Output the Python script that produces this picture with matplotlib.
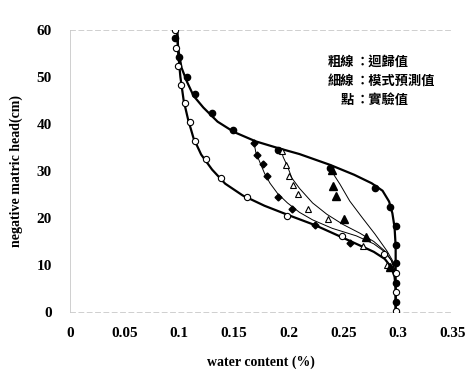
import matplotlib
matplotlib.use("Agg")
import matplotlib.pyplot as plt

# thick curves (regression)
upper_x = [0.098, 0.099, 0.102, 0.107, 0.113, 0.122, 0.135, 0.150, 0.170, 0.190, 0.210,
           0.238, 0.260, 0.276, 0.286, 0.292, 0.295, 0.297, 0.298, 0.298]
upper_y = [60, 56, 52, 49, 46, 43.5, 40.5, 38.3, 36.3, 34.9, 33.6,
           31.3, 29.2, 27.4, 25.8, 23.5, 21, 18, 14, 0]
lower_x = [0.098, 0.099, 0.101, 0.104, 0.108, 0.113, 0.120, 0.130, 0.142, 0.158, 0.178,
           0.200, 0.224, 0.245, 0.262, 0.278, 0.288, 0.294, 0.297, 0.298, 0.298]
lower_y = [60, 55, 50, 45, 41, 37, 33.5, 30.3, 27.3, 24.8, 22.6,
           20.6, 18.5, 16.3, 14.5, 12.8, 11.3, 9.5, 7.5, 5, 0]

# thin curves (model prediction)
thin1_x = [0.168, 0.170, 0.174, 0.178, 0.183, 0.190, 0.199, 0.210, 0.222, 0.240, 0.262, 0.278, 0.288, 0.294, 0.297]
thin1_y = [36.5, 34, 31.7, 29.5, 27.4, 25.2, 23.2, 21.2, 19.6, 17.8, 16.2, 14.5, 12.8, 11, 9]
thin2_x = [0.193, 0.195, 0.199, 0.203, 0.210, 0.222, 0.235, 0.250, 0.265, 0.278, 0.288, 0.294, 0.297]
thin2_y = [34.8, 33, 31, 28.5, 26.3, 23.2, 20.8, 18.6, 16.8, 15, 13, 11, 9]
thin3_x = [0.238, 0.242, 0.247, 0.256, 0.267, 0.279, 0.290, 0.295, 0.297]
thin3_y = [30.8, 29.0, 27.2, 23.6, 20.2, 16.6, 13, 11, 9]

# measured points
fc_x = [0.096, 0.0997, 0.107, 0.114, 0.130, 0.149, 0.190, 0.238, 0.279, 0.293, 0.298, 0.298, 0.298, 0.298, 0.298]
fc_y = [58.3, 54.3, 50, 46.4, 42.3, 38.7, 34.5, 30.6, 26.4, 22.3, 18.3, 14.3, 10.4, 6.2, 2.1]
oc_x = [0.096, 0.097, 0.099, 0.102, 0.105, 0.110, 0.114, 0.124, 0.138, 0.162, 0.199, 0.249, 0.287, 0.298, 0.298, 0.298]
oc_y = [60, 56.2, 52.3, 48.3, 44.5, 40.4, 36.4, 32.6, 28.5, 24.5, 20.4, 16.2, 12.3, 8.3, 4.3, 0.2]
dm_x = [0.168, 0.171, 0.177, 0.180, 0.190, 0.203, 0.224, 0.256, 0.292]
dm_y = [36, 33.4, 31.5, 29, 24.5, 21.9, 18.5, 14.7, 9.5]
ot_x = [0.194, 0.198, 0.200, 0.204, 0.209, 0.218, 0.236, 0.268, 0.290]
ot_y = [34.3, 31.3, 29, 27, 25, 22, 19.7, 14, 10]
ft_x = [0.240, 0.241, 0.243, 0.251, 0.271, 0.293]
ft_y = [30.2, 26.8, 24.7, 19.8, 16, 9.5]

xticks = [0, 0.05, 0.1, 0.15, 0.2, 0.25, 0.3, 0.35]
xtick_labels = ["0", "0.05", "0.1", "0.15", "0.2", "0.25", "0.3", "0.35"]
yticks = [0, 10, 20, 30, 40, 50, 60]

legend_left = ["粗線", "細線", "點"]
legend_right = ["：迴歸值", "：模式預測值", "：實驗值"]

serif = "Liberation Serif"

fig = plt.figure(figsize=(4.77, 3.81), dpi=100)
ax = fig.add_axes([0.1468, 0.1811, 0.8018, 0.7402])

ax.plot(upper_x, upper_y, color="black", lw=1.6, zorder=2)
ax.plot(lower_x, lower_y, color="black", lw=1.6, zorder=2)
for tx, ty in [(thin1_x, thin1_y), (thin2_x, thin2_y), (thin3_x, thin3_y)]:
    ax.plot(tx, ty, color="black", lw=0.7, zorder=2)

ax.plot(fc_x, fc_y, "o", ms=4.5, mfc="black", mec="black", zorder=3)
ax.plot(oc_x, oc_y, "o", ms=4.5, mfc="white", mec="black", mew=0.8, zorder=3)
ax.plot(dm_x, dm_y, "D", ms=3.5, mfc="black", mec="black", zorder=3)
ax.plot(ot_x, ot_y, "^", ms=5, mfc="white", mec="black", mew=0.8, zorder=3)
ax.plot(ft_x, ft_y, "^", ms=5.5, mfc="black", mec="black", zorder=3)

ax.set_xlim(0, 0.35)
ax.set_ylim(0, 60)
ax.set_xticks(xticks)
ax.set_xticklabels(xtick_labels)
ax.set_yticks(yticks)
ax.tick_params(length=0, labelsize=11, pad=11)
ax.tick_params(axis="y", pad=13)
for lab in ax.get_xticklabels() + ax.get_yticklabels():
    lab.set_fontfamily(serif)
    lab.set_fontweight("bold")

ax.set_xlabel("water content (%)", fontsize=10, fontweight="bold", family=serif, labelpad=11)
ax.set_ylabel("negative matric head(cm)", fontsize=10, fontweight="bold", family=serif, labelpad=10)

ax.spines["right"].set_visible(False)
for side in ["left", "top", "bottom"]:
    ax.spines[side].set_color("#c8c8c8")
    ax.spines[side].set_linewidth(0.6)
ax.spines["top"].set_linestyle((0, (6, 4)))
ax.spines["bottom"].set_linestyle((0, (6, 4)))

# legend text, aligned on the colon
cjk = ["Noto Sans CJK TC", "DejaVu Sans"]
for i in range(3):
    ty = 62 + i * 19
    fig.text(354 / 477, 1 - ty / 381, legend_left[i], ha="right", va="center",
             fontsize=9.5, fontweight="bold", family=cjk)
    fig.text(356 / 477, 1 - ty / 381, legend_right[i], ha="left", va="center",
             fontsize=9.5, fontweight="bold", family=cjk)

fig.savefig("out.png", dpi=100)
